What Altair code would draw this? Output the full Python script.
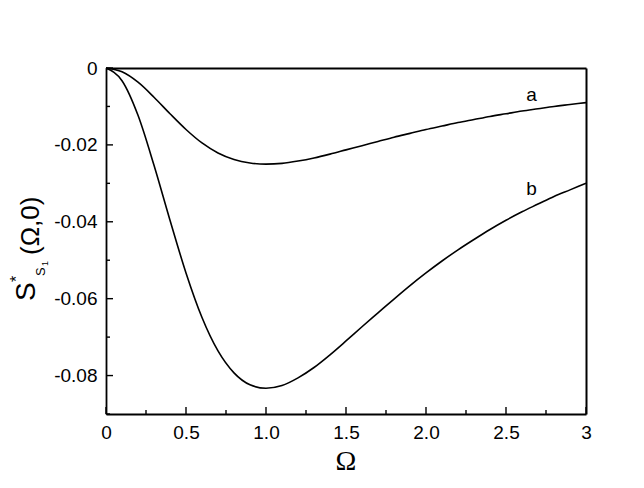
import altair as alt
import pandas as pd

# ---- data ----
omega = [0.0, 0.1, 0.2, 0.3, 0.4, 0.5, 0.6, 0.7, 0.8, 0.9, 1.0,
         1.1, 1.2, 1.3, 1.4, 1.5, 1.6, 1.7, 1.8, 1.9, 2.0,
         2.1, 2.2, 2.3, 2.4, 2.5, 2.6, 2.7, 2.8, 2.9, 3.0]
curve_a = [0.0, -0.0010, -0.0037, -0.0076, -0.0119, -0.0160, -0.0195, -0.0221, -0.0238, -0.0247, -0.0250,
           -0.0248, -0.0242, -0.0234, -0.0224, -0.0213, -0.0202, -0.0191, -0.0180, -0.0170, -0.0160,
           -0.0151, -0.0142, -0.0134, -0.0126, -0.0119, -0.0112, -0.0106, -0.0100, -0.0095, -0.0090]
curve_b = [0.0, -0.0033, -0.0123, -0.0253, -0.0396, -0.0533, -0.0649, -0.0736, -0.0793, -0.0824, -0.0833,
           -0.0826, -0.0806, -0.0779, -0.0746, -0.0710, -0.0673, -0.0637, -0.0601, -0.0566, -0.0533,
           -0.0502, -0.0473, -0.0446, -0.0420, -0.0396, -0.0374, -0.0354, -0.0334, -0.0317, -0.0300]

x_major = [0, 0.5, 1.0, 1.5, 2.0, 2.5, 3.0]
x_minor = [0.25, 0.75, 1.25, 1.75, 2.25, 2.75]
y_major = [0, -0.02, -0.04, -0.06, -0.08]
y_minor = [-0.01, -0.03, -0.05, -0.07, -0.09]

curve_names = ["a", "b"]
curve_label_x = [2.66, 2.66]
curve_label_y = [-0.0070, -0.0315]

x_title = "Ω"
y_title_parts = ["S", "*", "S", "1", "(Ω,0)"]

W, H = 480, 346
FONT = "Liberation Sans"

rows = []
for o, a, b in zip(omega, curve_a, curve_b):
    rows.append({"Omega": o, "S": a, "curve": "a"})
    rows.append({"Omega": o, "S": b, "curve": "b"})
df = pd.DataFrame(rows)

xscale = alt.Scale(domain=[0, 3], nice=False, zero=False)
yscale = alt.Scale(domain=[-0.09, 0], nice=False, zero=False)

lines = alt.Chart(df).mark_line(color="black", strokeWidth=1.6, interpolate="monotone").encode(
    x=alt.X("Omega:Q", scale=xscale, axis=alt.Axis(
        values=x_major, ticks=False, grid=False, title=None,
        labelExpr="datum.value == 0 ? '0' : (datum.value == 3 ? '3' : format(datum.value, '.1f'))",
        labelFont=FONT, labelFontSize=19, labelColor="black", labelPadding=9, labelFlush=False,
        domainColor="black", domainWidth=1.8)),
    y=alt.Y("S:Q", scale=yscale, axis=alt.Axis(
        values=y_major, ticks=False, grid=False, title=None,
        labelExpr="datum.value == 0 ? '0' : '-' + format(-datum.value, '.2f')",
        labelFont=FONT, labelFontSize=19, labelColor="black", labelPadding=9, labelFlush=False,
        domainColor="black", domainWidth=1.8)),
    detail="curve:N",
)

# frame: top and right axis lines only
frame = alt.Chart(pd.DataFrame({"v": [0]})).mark_point(opacity=0).encode(
    x=alt.X("v:Q", scale=xscale, axis=alt.Axis(orient="top", labels=False, ticks=False, grid=False,
                                                title=None, domainColor="black", domainWidth=2)),
    y=alt.Y("v:Q", scale=yscale, axis=alt.Axis(orient="right", labels=False, ticks=False, grid=False,
                                                title=None, domainColor="black", domainWidth=2)),
)

xmaj = alt.Chart(pd.DataFrame({"v": x_major})).mark_rule(color="black", strokeWidth=1.4).encode(
    x=alt.X("v:Q", scale=xscale, axis=None), y=alt.value(H), y2=alt.value(H - 7))
xmin = alt.Chart(pd.DataFrame({"v": x_minor})).mark_rule(color="black", strokeWidth=1.4).encode(
    x=alt.X("v:Q", scale=xscale, axis=None), y=alt.value(H), y2=alt.value(H - 4))
ymaj = alt.Chart(pd.DataFrame({"v": y_major})).mark_rule(color="black", strokeWidth=1.4).encode(
    y=alt.Y("v:Q", scale=yscale, axis=None), x=alt.value(0), x2=alt.value(7))
ymin = alt.Chart(pd.DataFrame({"v": y_minor})).mark_rule(color="black", strokeWidth=1.4).encode(
    y=alt.Y("v:Q", scale=yscale, axis=None), x=alt.value(0), x2=alt.value(4))

labels = alt.Chart(pd.DataFrame({"name": curve_names, "x": curve_label_x, "y": curve_label_y})).mark_text(
    font=FONT, fontSize=19, color="black", baseline="middle", align="center").encode(
    x=alt.X("x:Q", scale=xscale, axis=None), y=alt.Y("y:Q", scale=yscale, axis=None), text="name:N")

def piece(txt, size, px, py, font=FONT):
    return alt.Chart(pd.DataFrame({"t": [txt]})).mark_text(
        font=font, fontSize=size, color="black", angle=270, align="left", baseline="alphabetic").encode(
        text="t:N", x=alt.value(px), y=alt.value(py))

# positions relative to the plot origin (abs 106, 68)
ytitle = [
    piece(y_title_parts[0], 28, 35 - 106, 301 - 68),
    piece(y_title_parts[1], 16, 22 - 106, 282 - 68),
    piece(y_title_parts[2], 13, 45 - 106, 276 - 68),
    piece(y_title_parts[3], 9, 48 - 106, 266 - 68),
    piece(y_title_parts[4], 26, 39 - 106, 255 - 68),
]

xt = alt.Chart(pd.DataFrame({"t": [x_title]})).mark_text(
    font="Liberation Serif", fontSize=28, color="black", baseline="middle", align="center").encode(
    text="t:N", x=alt.value(W / 2), y=alt.value(462 - 68))

chart = alt.layer(lines, frame, xmaj, xmin, ymaj, ymin, labels, xt, *ytitle).resolve_axis(
    x="independent", y="independent"
).properties(
    width=W, height=H,
    autosize=alt.AutoSizeParams(type="none"),
    padding={"left": 98, "top": 60, "right": 50, "bottom": 70},
    background="white",
).configure_view(stroke=None)

chart.save("out.html", embed_options={"renderer": "svg", "actions": False})
